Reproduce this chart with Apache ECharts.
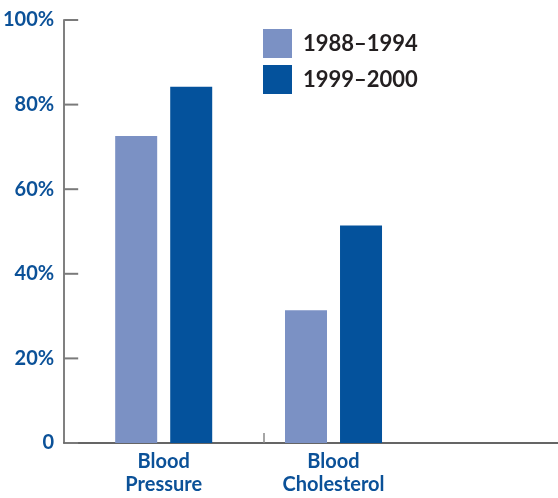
<!DOCTYPE html>
<html>
<head>
    <meta charset="utf-8">
    <title>Blood Pressure / Cholesterol</title>
    <style>
        html, body { margin: 0; padding: 0; background: #fff; }
        #charts { width: 558px; height: 498px; }
    </style>
</head>
<body>
<div id="charts"></div>
<script src="https://cdn.jsdelivr.net/npm/echarts@6/dist/echarts.min.js"></script>
<script>
    // data
    var categories = ['Blood\nPressure', 'Blood\nCholesterol'];
    var periods = ['1988\u20131994', '1999\u20132000'];
    var values1988 = [72.6, 31.4];
    var values1999 = [84.2, 51.4];
    var yTicks = [0, 20, 40, 60, 80, 100];

    var lightBlue = '#7b91c4';
    var darkBlue = '#04529c';
    var labelBlue = '#0b5198';

    // bars sit on a numeric axis, one unit per category
    function toPoints(vals) {
        return vals.map(function (v, i) { return [i, v]; });
    }

    var xMin = -0.586, xMax = 2.322;
    var yMin = yTicks[0], yMax = yTicks[yTicks.length - 1];

    var myChart = echarts.init(document.getElementById('charts'));

    var option = {
        animation: false,
        grid: { left: 63, right: 0, top: 20, bottom: 55 },
        legend: {
            orient: 'vertical',
            left: 263,
            top: 29,
            padding: 0,
            itemWidth: 29,
            itemHeight: 29,
            itemGap: 7,
            icon: 'rect',
            data: periods,
            textStyle: {
                fontFamily: 'Lato',
                fontSize: 22,
                fontWeight: 'bold',
                color: '#231f20',
                padding: [0, 0, 0, 6]
            }
        },
        xAxis: [{
            type: 'value',
            min: xMin,
            max: xMax,
            splitLine: { show: false },
            axisLine: { onZero: false, lineStyle: { color: '#333', width: 1.5 } },
            axisTick: { show: false },
            axisLabel: {
                customValues: [0, 1],
                margin: 7,
                formatter: function (v) { return categories[Math.round(v)]; },
                fontFamily: 'Lato',
                fontSize: 20,
                fontWeight: 'bold',
                lineHeight: 23,
                color: labelBlue
            }
        }, {
            // lone divider tick between the two groups
            type: 'value',
            position: 'bottom',
            min: xMin,
            max: xMax,
            splitLine: { show: false },
            axisLine: { show: false, onZero: false },
            axisLabel: { show: false },
            axisTick: {
                inside: true,
                length: 10,
                customValues: [0.589],
                lineStyle: { color: '#888', width: 1.5 }
            }
        }],
        yAxis: {
            type: 'value',
            min: yMin,
            max: yMax,
            interval: 20,
            splitLine: { show: false },
            axisLine: { show: true, onZero: false, lineStyle: { color: '#808080', width: 2 } },
            axisTick: { show: false },
            axisLabel: {
                margin: 10,
                fontFamily: 'Lato',
                fontSize: 20,
                fontWeight: 'bold',
                color: labelBlue,
                formatter: function (v) { return v === 0 ? '0' : v + '%'; }
            }
        },
        series: [
            {
                name: periods[0],
                type: 'bar',
                barWidth: 42,
                barGap: '31%',
                itemStyle: { color: lightBlue },
                data: toPoints(values1988)
            },
            {
                name: periods[1],
                type: 'bar',
                barWidth: 42,
                barGap: '31%',
                itemStyle: { color: darkBlue },
                data: toPoints(values1999)
            },
            {
                // inward y ticks, placed through the y scale
                type: 'custom',
                silent: true,
                z: 1,
                clip: false,
                data: yTicks.map(function (v) { return [xMin, v]; }),
                renderItem: function (params, api) {
                    var p = api.coord([api.value(0), api.value(1)]);
                    return {
                        type: 'line',
                        shape: { x1: p[0], y1: p[1], x2: p[0] + 14, y2: p[1] },
                        style: { stroke: '#7a7a7a', lineWidth: 2 }
                    };
                }
            }
        ]
    };
    myChart.setOption(option);
</script>
</body>
</html>
